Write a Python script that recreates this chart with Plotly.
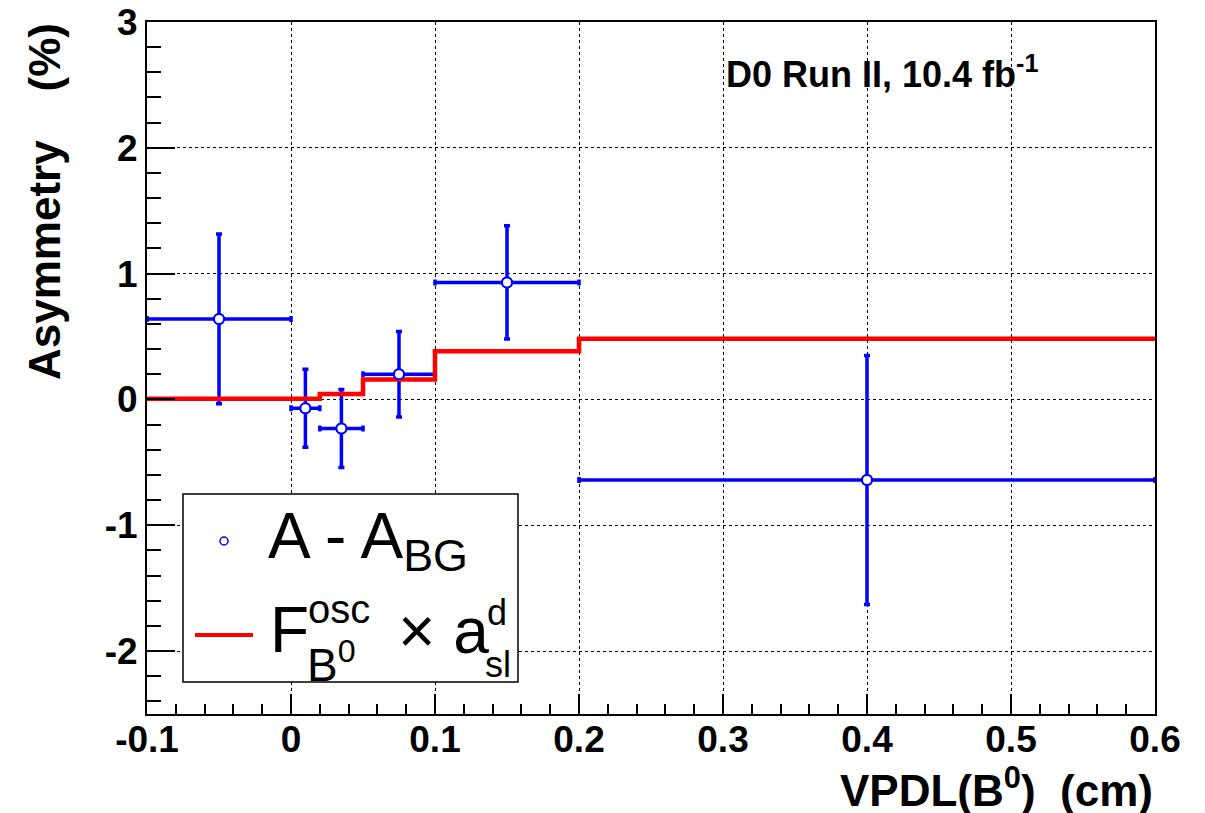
import plotly.graph_objects as go

# Measured asymmetry minus background, per VPDL bin
vpdl_center = [-0.05, 0.01, 0.035, 0.075, 0.15, 0.40]
vpdl_halfwidth = [0.05, 0.01, 0.015, 0.025, 0.05, 0.20]
asym = [0.64, -0.07, -0.23, 0.20, 0.93, -0.64]
asym_err = [0.675, 0.31, 0.31, 0.34, 0.45, 0.99]

# Expected F_osc x a_sl^d step function
step_edges = [-0.1, 0.02, 0.05, 0.1, 0.2, 0.6]
step_values = [0.005, 0.044, 0.158, 0.384, 0.482]

x_ticks = [-0.1, 0, 0.1, 0.2, 0.3, 0.4, 0.5, 0.6]
x_ticktext = ["-0.1", "0", "0.1", "0.2", "0.3", "0.4", "0.5", "0.6"]
y_ticks = [-2, -1, 0, 1, 2, 3]
y_ticktext = ["-2", "-1", "0", "1", "2", "3"]

W, H = 1205, 813
L, R, T, B = 147, 50, 22, 99
PW, PH = W - L - R, H - T - B


def xp(px):
    return (px - L) / PW


def yp(py):
    return (H - B - py) / PH


FONT = "Liberation Sans, Arial, Helvetica, sans-serif"
BLUE = "#0000ff"
RED = "#ff0000"

fig = go.Figure()

fig.add_trace(go.Scatter(
    x=vpdl_center, y=asym, mode="markers",
    marker=dict(symbol="circle", size=10, color="white",
                line=dict(color=BLUE, width=2)),
    error_x=dict(type="data", array=vpdl_halfwidth, symmetric=True,
                 color=BLUE, thickness=3.5, width=3),
    error_y=dict(type="data", array=asym_err, symmetric=True,
                 color=BLUE, thickness=3.5, width=3),
    showlegend=False, cliponaxis=False,
))

fig.add_trace(go.Scatter(
    x=step_edges, y=step_values + [step_values[-1]],
    mode="lines", line=dict(color=RED, width=4.5, shape="hv"),
    showlegend=False,
))

# markers again so they sit above the step line
fig.add_trace(go.Scatter(
    x=vpdl_center, y=asym, mode="markers",
    marker=dict(symbol="circle", size=10, color="white",
                line=dict(color=BLUE, width=2)),
    showlegend=False, hoverinfo="skip",
))

axis_common = dict(
    showline=True, linecolor="black", linewidth=2, mirror=True,
    ticks="inside", tickcolor="black", tickwidth=1.5,
    showgrid=True, gridcolor="black", griddash="dot", gridwidth=1,
    zeroline=False, automargin=False,
    tickfont=dict(family=FONT, size=37, color="black", weight="bold"),
)

fig.update_xaxes(
    range=[-0.1, 0.6], tickvals=x_ticks, ticktext=x_ticktext,
    ticklen=20, ticklabelstandoff=-8,
    minor=dict(ticks="inside", ticklen=10, dtick=0.02, tick0=0,
               tickcolor="black", tickwidth=1.5, showgrid=False),
    **axis_common,
)
fig.update_yaxes(
    range=[-2.5, 3], tickvals=y_ticks, ticktext=y_ticktext,
    ticklen=28,
    minor=dict(ticks="inside", ticklen=14, dtick=0.2, tick0=0,
               tickcolor="black", tickwidth=1.5, showgrid=False),
    **axis_common,
)

annotations = [
    dict(text="Asymmetry&nbsp;&nbsp;&nbsp;&nbsp;(%)", textangle=-90,
         x=xp(44), y=yp(202), xanchor="center", yanchor="middle",
         font=dict(family=FONT, size=44, color="black", weight="bold")),
    dict(text="VPDL(B<sup>0</sup>)&nbsp;&nbsp;(cm)",
         x=xp(1155), y=yp(787), xanchor="right", yanchor="middle",
         font=dict(family=FONT, size=44, color="black", weight="bold")),
    dict(text="D0 Run II, 10.4 fb<sup>-1</sup>",
         x=xp(724), y=yp(72), xanchor="left", yanchor="middle",
         font=dict(family=FONT, size=36, color="black", weight="bold")),
    # legend entries
    dict(text="A - A<sub>BG</sub>",
         x=xp(266), y=yp(540), xanchor="left", yanchor="middle",
         font=dict(family=FONT, size=64, color="black")),
    dict(text="F", x=xp(268), y=yp(630), xanchor="left", yanchor="middle",
         font=dict(family=FONT, size=64, color="black")),
    dict(text="osc", x=xp(306), y=yp(609), xanchor="left", yanchor="middle",
         font=dict(family=FONT, size=40, color="black")),
    dict(text="B<sup>0</sup>", x=xp(305), y=yp(662), xanchor="left",
         yanchor="middle", font=dict(family=FONT, size=46, color="black")),
    dict(text="× a", x=xp(396), y=yp(631), xanchor="left", yanchor="middle",
         font=dict(family=FONT, size=64, color="black")),
    dict(text="d", x=xp(485), y=yp(612), xanchor="left", yanchor="middle",
         font=dict(family=FONT, size=36, color="black")),
    dict(text="sl", x=xp(483), y=yp(664), xanchor="left", yanchor="middle",
         font=dict(family=FONT, size=36, color="black")),
]
for a in annotations:
    a.update(xref="paper", yref="paper", showarrow=False)

shapes = [
    dict(type="rect", xref="paper", yref="paper",
         x0=xp(183), x1=xp(518), y0=yp(494), y1=yp(682),
         line=dict(color="black", width=1.5), fillcolor="white",
         layer="above"),
    dict(type="circle", xref="paper", yref="paper",
         x0=xp(220), x1=xp(228), y0=yp(545), y1=yp(537),
         line=dict(color=BLUE, width=1.5), fillcolor="white",
         layer="above"),
    dict(type="line", xref="paper", yref="paper",
         x0=xp(195), x1=xp(253), y0=yp(635), y1=yp(635),
         line=dict(color=RED, width=4), layer="above"),
]

fig.update_layout(
    width=W, height=H,
    margin=dict(l=L, r=R, t=T, b=B),
    paper_bgcolor="white", plot_bgcolor="white",
    annotations=annotations, shapes=shapes,
    showlegend=False,
)

fig.write_html("out.html")
